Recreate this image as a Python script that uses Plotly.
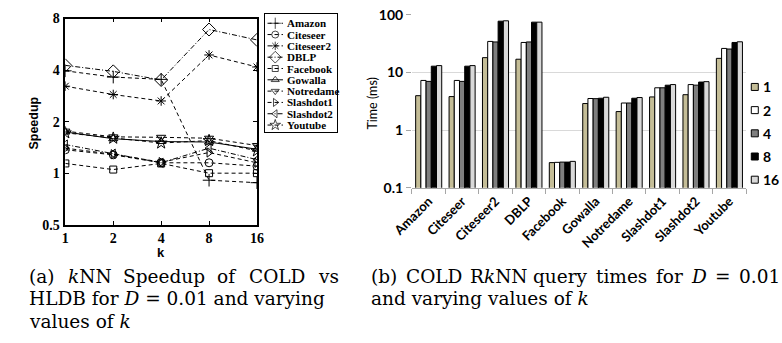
import math
import plotly.graph_objects as go

W, H = 782, 343

# ---- data -------------------------------------------------------------
k_values = [1, 2, 4, 8, 16]
k_labels = ["1", "2", "4", "8", "16"]
datasets = ["Amazon", "Citeseer", "Citeseer2", "DBLP", "Facebook",
            "Gowalla", "Notredame", "Slashdot1", "Slashdot2", "Youtube"]

# kNN speedup of COLD vs HLDB (one list per dataset, indexed by k)
speedup_amazon = [3.96, 3.64, 3.53, 0.91, 0.88]
speedup_citeseer = [1.37, 1.28, 1.15, 1.15, 1.10]
speedup_citeseer2 = [3.22, 2.88, 2.64, 4.90, 4.17]
speedup_dblp = [4.26, 3.93, 3.50, 6.90, 6.00]
speedup_facebook = [1.14, 1.05, 1.14, 1.00, 1.00]
speedup_gowalla = [1.74, 1.59, 1.53, 1.52, 1.38]
speedup_notredame = [1.76, 1.63, 1.62, 1.60, 1.45]
speedup_slashdot1 = [1.40, 1.29, 1.16, 1.32, 1.15]
speedup_slashdot2 = [1.47, 1.30, 1.15, 1.40, 1.20]
speedup_youtube = [1.72, 1.60, 1.50, 1.55, 1.35]

# RkNN query times in ms (one list per k, indexed by dataset)
time_k1 = [3.94, 3.80, 18.0, 16.9, 0.272, 2.88, 2.09, 3.75, 4.10, 17.5]
time_k2 = [7.24, 7.24, 34.4, 33.0, 0.275, 3.52, 2.94, 5.40, 6.14, 26.0]
time_k4 = [6.97, 6.97, 33.7, 33.7, 0.278, 3.50, 2.94, 5.40, 6.00, 25.4]
time_k8 = [12.8, 12.8, 77.2, 74.3, 0.278, 3.56, 3.56, 5.99, 6.79, 33.0]
time_k16 = [13.1, 13.1, 78.4, 74.3, 0.286, 3.70, 3.66, 6.14, 6.90, 33.9]

speedup_series = [speedup_amazon, speedup_citeseer, speedup_citeseer2,
                  speedup_dblp, speedup_facebook, speedup_gowalla,
                  speedup_notredame, speedup_slashdot1, speedup_slashdot2,
                  speedup_youtube]
time_series = [time_k1, time_k2, time_k4, time_k8, time_k16]

# ---- styles -----------------------------------------------------------
DASH = "4px,3px"
DASHDOT = "5px,2px,1px,2px"
line_style = {
    "Amazon": (DASH, "cross-thin-open", 9),
    "Citeseer": (DASH, "circle-open", 8),
    "Citeseer2": (DASH, "asterisk-open", 8),
    "DBLP": (DASHDOT, "diamond-open", 10),
    "Facebook": (DASH, "square-open", 7),
    "Gowalla": ("solid", "triangle-up-open", 8),
    "Notredame": (DASH, "triangle-down-open", 8),
    "Slashdot1": (DASH, "triangle-right-open", 8),
    "Slashdot2": (DASHDOT, "triangle-left-open", 8),
    "Youtube": (DASH, "star-open", 9),
}
bar_colors = ["#c4bd97", "#ffffff", "#7f7f7f", "#000000", "#d9d9d9"]

SERIF_B = dict(family="Liberation Serif", color="black", weight="bold")
SANS_B = dict(family="Liberation Sans", color="black", weight="bold")
XL = dict(family="Lato", color="#000000")
CAP = dict(family="DejaVu Serif", color="black", size=18.5)


def fx(p):
    return p / W


def fy(p):
    return 1 - p / H


fig = go.Figure()

# ---- (a) speedup line chart ------------------------------------------
for name, vals in zip(datasets, speedup_series):
    dash, sym, size = line_style[name]
    fig.add_trace(go.Scatter(
        x=k_values, y=vals, mode="lines+markers", xaxis="x", yaxis="y",
        line=dict(color="black", width=1, dash=dash),
        marker=dict(symbol=sym, size=size, color="black",
                    line=dict(color="black", width=1)),
        showlegend=False, hoverinfo="skip"))

# hand-laid legend box for the line chart (axis units are pixels)
LEG_TOP, LEG_STEP = 15, 11.9
for i, name in enumerate(datasets):
    dash, sym, size = line_style[name]
    yy = LEG_TOP + LEG_STEP * i
    fig.add_trace(go.Scatter(
        x=[255, 263, 271], y=[yy, yy, yy], mode="lines+markers",
        xaxis="x3", yaxis="y3",
        line=dict(color="black", width=1, dash=dash),
        marker=dict(symbol=sym, size=[0, size - 1, 0], color="black",
                    line=dict(color="black", width=1)),
        showlegend=False, hoverinfo="skip"))
    fig.add_annotation(x=273, y=yy, xref="x3", yref="y3", text=name,
                       showarrow=False, xanchor="left", yanchor="middle",
                       font=dict(SERIF_B, size=11))

# ---- (b) query time bar chart ----------------------------------------
for lab, vals, col in zip(k_labels, time_series, bar_colors):
    fig.add_trace(go.Bar(
        x=datasets, y=vals, name=lab, xaxis="x2", yaxis="y2",
        marker=dict(color=col, line=dict(color="black", width=1)),
        showlegend=False, hoverinfo="skip"))

# hand-laid legend for the bars
for i, (lab, col) in enumerate(zip(k_labels, bar_colors)):
    yy = 82 + 24.4 * i
    fig.add_trace(go.Scatter(
        x=[761], y=[yy], mode="markers", xaxis="x4", yaxis="y4",
        marker=dict(symbol="square", size=7, color=col,
                    line=dict(color="black", width=1)),
        showlegend=False, hoverinfo="skip"))
    fig.add_annotation(x=767, y=yy, xref="x4", yref="y4", text=lab,
                       showarrow=False, xanchor="left", yanchor="middle",
                       font=dict(XL, size=14, weight="bold"))

hidden = dict(showticklabels=False, ticks="", showgrid=False,
              zeroline=False, fixedrange=True)

fig.update_layout(
    width=W, height=H, margin=dict(l=0, r=0, t=0, b=0),
    paper_bgcolor="white", plot_bgcolor="white", showlegend=False,
    barmode="group", bargap=0.22, bargroupgap=0,
    xaxis=dict(
        domain=[fx(45), fx(244)], anchor="y", type="log",
        range=[0, math.log10(16)], tickvals=k_values, ticktext=k_labels,
        ticks="inside", ticklen=4, tickcolor="black", tickwidth=1,
        showline=True, linecolor="black", linewidth=1.5, mirror="ticks",
        showgrid=False, zeroline=False, tickfont=dict(SERIF_B, size=14),
        ticklabelstandoff=0),
    yaxis=dict(
        domain=[fy(227), fy(10)], anchor="x", type="log",
        range=[math.log10(0.5), math.log10(8)],
        tickvals=[0.5, 1, 2, 4, 8], ticktext=["0.5", "1", "2", "4", "8"],
        ticks="inside", ticklen=4, tickcolor="black", tickwidth=1,
        showline=True, linecolor="black", linewidth=1.5, mirror="ticks",
        showgrid=False, zeroline=False, tickfont=dict(SERIF_B, size=14),
        ticklabelstandoff=1),
    xaxis2=dict(
        domain=[fx(405), fx(752)], anchor="y2", type="category",
        tickangle=-45, ticks="outside", tickson="boundaries", ticklen=5,
        tickcolor="#a6a6a6", showline=True, linecolor="#a6a6a6",
        linewidth=1, showgrid=False, zeroline=False,
        tickfont=dict(XL, size=13, weight="bold")),
    yaxis2=dict(
        domain=[fy(188), fy(6)], anchor="x2", type="log", range=[-1, 2],
        tickvals=[0.1, 1, 10, 100], ticktext=["0.1", "1", "10", "100"],
        ticks="outside", ticklen=5, tickcolor="#a6a6a6", showline=False,
        showgrid=True, gridcolor="#d9d9d9", gridwidth=1, zeroline=False,
        tickfont=dict(XL, size=14, weight="bold")),
    xaxis3=dict(domain=[fx(252), fx(327)], anchor="y3", range=[252, 327],
                showline=True, linecolor="black", linewidth=1, mirror=True,
                **hidden),
    yaxis3=dict(domain=[fy(129), fy(5)], anchor="x3", range=[129, 5],
                showline=True, linecolor="black", linewidth=1, mirror=True,
                **hidden),
    xaxis4=dict(domain=[fx(752), 1], anchor="y4", range=[752, 782],
                showline=False, **hidden),
    yaxis4=dict(domain=[fy(195), fy(70)], anchor="x4", range=[195, 70],
                showline=False, **hidden),
)

# axis titles
fig.add_annotation(x=fx(13), y=fy(120), xref="paper", yref="paper",
                   text="Speedup", textangle=-90, showarrow=False,
                   xanchor="center", yanchor="middle",
                   font=dict(SANS_B, size=12.5))
fig.add_annotation(x=fx(144), y=fy(256), xref="paper", yref="paper",
                   text="k", showarrow=False, xanchor="center",
                   yanchor="middle", borderpad=0,
                   font=dict(SANS_B, size=13))
fig.add_annotation(x=fx(364), y=fy(100), xref="paper", yref="paper",
                   text="Time (ms)", textangle=-90, showarrow=False,
                   xanchor="center", yanchor="middle",
                   font=dict(XL, size=12.5))


# captions: justified lines are laid out word by word
def caption_words(words, y):
    for word, x0 in words:
        fig.add_annotation(x=fx(x0), y=fy(y), xref="paper", yref="paper",
                           text=word, showarrow=False, xanchor="left",
                           yanchor="middle", font=CAP)


caption_words([("(a)", 5), ("<i>k</i>NN", 46), ("Speedup", 103),
               ("of", 200), ("COLD", 234), ("vs", 305)], 281)
caption_words([("HLDB for <i>D</i> = 0.01 and varying", 5)], 305)
caption_words([("values of <i>k</i>", 5)], 329)
caption_words([("(b)", 360), ("COLD", 397), ("R<i>k</i>NN", 463),
               ("query", 529), ("times", 594), ("for", 656),
               ("<i>D</i>", 693), ("=", 718), ("0.01", 743)], 281)
caption_words([("and varying values of <i>k</i>", 360)], 305)

fig.write_html("out.html")
